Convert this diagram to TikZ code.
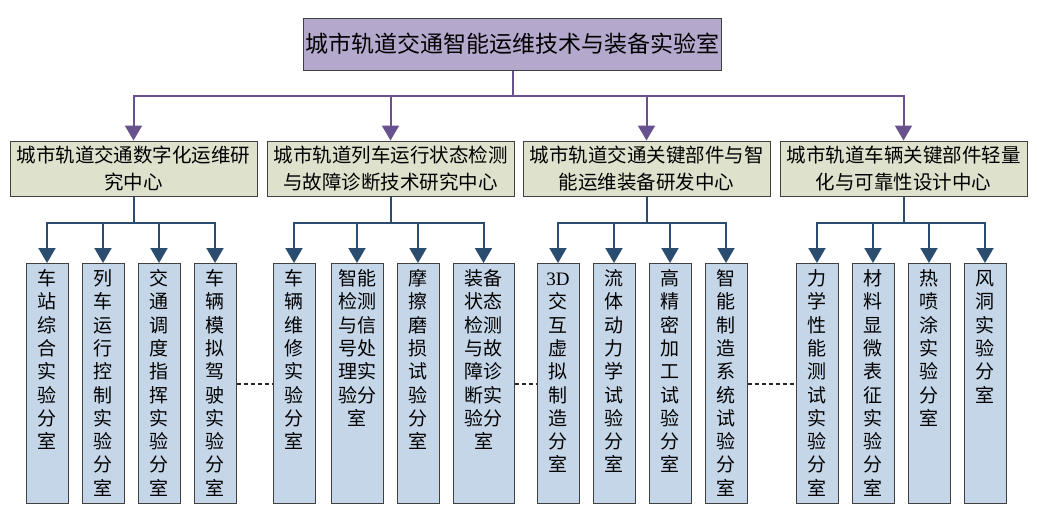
\documentclass[tikz,border=0pt]{standalone}
\usepackage{fontspec}
\setmainfont{Liberation Serif}
\newfontfamily\cjk{Noto Sans CJK SC}
\usetikzlibrary{arrows.meta}
\definecolor{cpurple}{RGB}{180,168,205}
\definecolor{cpline}{RGB}{104,82,142}
\definecolor{colive}{RGB}{222,226,204}
\definecolor{cblue}{RGB}{197,214,232}
\definecolor{cbline}{RGB}{42,76,110}
\definecolor{cedge}{RGB}{64,64,64}

\begin{document}
\begin{tikzpicture}[x=1pt,y=-1pt,
box/.style={draw=cedge,line width=1pt,inner sep=2pt},
head/.style={box,fill=cpurple,minimum width=417pt,minimum height=52pt,font=\cjk\fontsize{23pt}{27pt}\selectfont},
centre/.style={box,fill=colive,minimum width=247pt,minimum height=55pt,align=center,font=\cjk\fontsize{19.5pt}{27pt}\selectfont},
room/.style={box,fill=cblue,anchor=north,inner ysep=4pt,text width=#1,align=center,text height=18pt,text depth=214pt,font=\cjk\fontsize{19pt}{23.3pt}\selectfont},
room/.default=38pt,
parr/.style={cpline,line width=2pt,-{Triangle[length=15pt,width=17pt]}},
barr/.style={cbline,line width=2pt,-{Triangle[length=15pt,width=17pt]}},
gap/.style={black!85,line width=2pt,dash pattern=on 4pt off 3pt}]
\useasboundingbox (0,0) rectangle (1037,520);
% laboratory
\node[head] (lab) at (512.5,44) {城市轨道交通智能运维技术与装备实验室};
% research centres
\node[centre] (c1) at (133.5,168.5) {城市轨道交通数字化运维研\\究中心};
\node[centre] (c2) at (390.5,168.5) {城市轨道列车运行状态检测\\与故障诊断技术研究中心};
\node[centre] (c3) at (646.5,168.5) {城市轨道交通关键部件与智\\能运维装备研发中心};
\node[centre] (c4) at (903.5,168.5) {城市轨道车辆关键部件轻量\\化与可靠性设计中心};
% sub-laboratories
\node[room] (r11) at (47,263) {车\\站\\综\\合\\实\\验\\分\\室};
\node[room] (r12) at (103,263) {列\\车\\运\\行\\控\\制\\实\\验\\分\\室};
\node[room] (r13) at (159,263) {交\\通\\调\\度\\指\\挥\\实\\验\\分\\室};
\node[room] (r14) at (215,263) {车\\辆\\模\\拟\\驾\\驶\\实\\验\\分\\室};
\node[room] (r21) at (294,263) {车\\辆\\维\\修\\实\\验\\分\\室};
\node[room=48pt] (r22) at (357,263) {智能\\检测\\与信\\号处\\理实\\验分\\室};
\node[room] (r23) at (418,263) {摩\\擦\\磨\\损\\试\\验\\分\\室};
\node[room=57pt] (r24) at (483.5,263) {装备\\状态\\检测\\与故\\障诊\\断实\\验分\\室};
\node[room] (r31) at (558,263) {{\rmfamily 3D}\\交\\互\\虚\\拟\\制\\造\\分\\室};
\node[room] (r32) at (614,263) {流\\体\\动\\力\\学\\试\\验\\分\\室};
\node[room] (r33) at (670,263) {高\\精\\密\\加\\工\\试\\验\\分\\室};
\node[room] (r34) at (726,263) {智\\能\\制\\造\\系\\统\\试\\验\\分\\室};
\node[room] (r41) at (817,263) {力\\学\\性\\能\\测\\试\\实\\验\\分\\室};
\node[room] (r42) at (873,263) {材\\料\\显\\微\\表\\征\\实\\验\\分\\室};
\node[room] (r43) at (929,263) {热\\喷\\涂\\实\\验\\分\\室};
\node[room] (r44) at (985,263) {风\\洞\\实\\验\\分\\室};
% connectors
\foreach \i in {1,...,4}{
  \draw[parr] (lab.south) -- ++(0,25) -| (c\i.north);
  \foreach \j in {1,...,4}
    \draw[barr] (c\i.south) -- ++(0,26) -| (r\i\j.north);
}
\draw[gap] (r14.east) -- (r21.west);
\draw[gap] (r24.east) -- (r31.west);
\draw[gap] (r34.east) -- (r41.west);
\end{tikzpicture}
\end{document}
